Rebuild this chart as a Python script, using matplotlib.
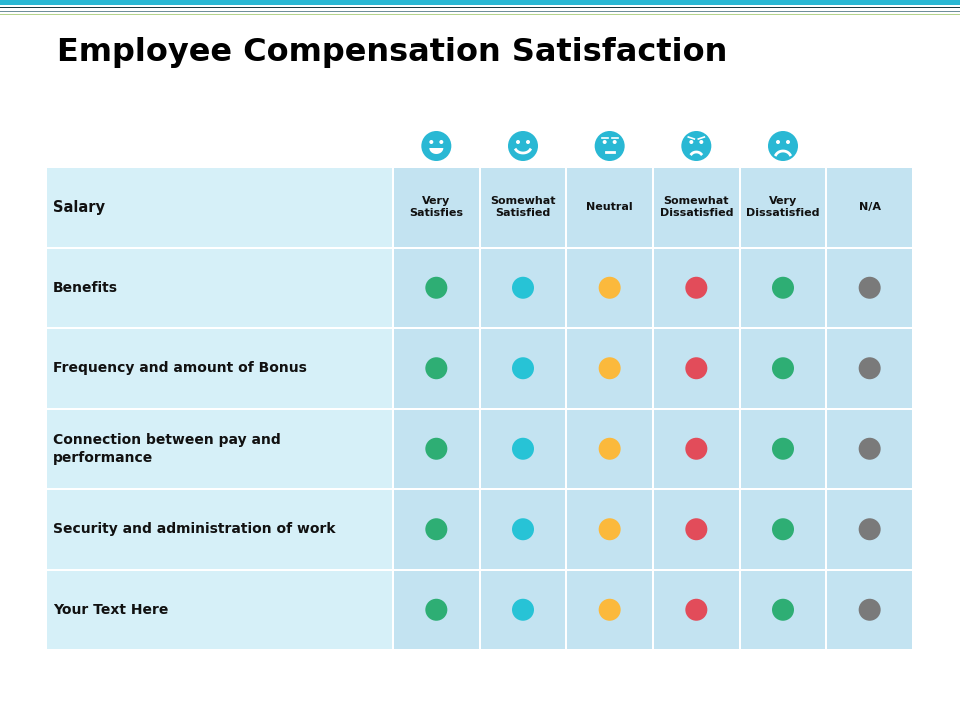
import matplotlib
matplotlib.use("Agg")
import matplotlib.pyplot as plt
from matplotlib.patches import Rectangle, Circle, Arc
import numpy as np

title = "Employee Compensation Satisfaction"
header_label = "Salary"
rows = ["Benefits", "Frequency and amount of Bonus",
        "Connection between pay and\nperformance",
        "Security and administration of work", "Your Text Here"]
columns = ["Very\nSatisfies", "Somewhat\nSatisfied", "Neutral",
           "Somewhat\nDissatisfied", "Very\nDissatisfied", "N/A"]
dot_colors = ["#2eae74", "#27c3d6", "#fbb93c", "#e24c5a", "#2eae74", "#7a7a7a"]

fig = plt.figure(figsize=(9.6, 7.2), dpi=100)
ax = fig.add_axes([0, 0, 1, 1])
ax.set_xlim(0, 960); ax.set_ylim(720, 0); ax.axis("off")

# top decorative lines
ax.add_patch(Rectangle((0, 0), 960, 5, color="#29b8d4", lw=0))
ax.add_patch(Rectangle((0, 6.5), 960, 1.3, color="#1d3d45", lw=0))
ax.add_patch(Rectangle((0, 10.5), 960, 1.3, color="#6f8f9a", lw=0))
ax.add_patch(Rectangle((0, 13.5), 960, 1.3, color="#b5d38c", lw=0))

ax.text(57, 52, title, fontsize=23, fontweight="bold", va="center", ha="left",
        family="DejaVu Sans", color="black")

left_x0, left_x1 = 47, 393
col_edges = np.linspace(393, 913, len(columns) + 1)
row_edges = np.linspace(167, 650, len(rows) + 2)
g = 1.0

for r in range(len(rows) + 1):
    y0, y1 = row_edges[r], row_edges[r + 1]
    ax.add_patch(Rectangle((left_x0, y0 + g), left_x1 - left_x0 - g, y1 - y0 - 2 * g,
                           color="#d6f0f8", lw=0))
    for c in range(len(columns)):
        ax.add_patch(Rectangle((col_edges[c] + g, y0 + g), col_edges[c + 1] - col_edges[c] - 2 * g,
                               y1 - y0 - 2 * g, color="#c3e3f1", lw=0))
    label = header_label if r == 0 else rows[r - 1]
    ax.text(53, (y0 + y1) / 2, label, fontsize=10.5 if r == 0 else 10, fontweight="bold",
            va="center", ha="left", color="#111111", linespacing=1.4)

yc0 = (row_edges[0] + row_edges[1]) / 2
for c, name in enumerate(columns):
    xc = (col_edges[c] + col_edges[c + 1]) / 2
    ax.text(xc, yc0, name, fontsize=8, fontweight="bold", ha="center", va="center",
            color="#111111", linespacing=1.3)
    for r in range(len(rows)):
        yc = (row_edges[r + 1] + row_edges[r + 2]) / 2
        ax.add_patch(Circle((xc, yc), 11, color=dot_colors[c], lw=0))

# emoji faces
fc = "#29b8d4"
for c in range(5):
    xc = (col_edges[c] + col_edges[c + 1]) / 2
    yc = 146
    ax.add_patch(Circle((xc, yc), 15, color=fc, lw=0))
    for dx in (-5, 5):
        ax.add_patch(Circle((xc + dx, yc - 4), 2, color="white", lw=0))
    if c == 0:
        ax.add_patch(Arc((xc, yc + 2), 16, 12, theta1=0, theta2=180, color="white", lw=0))
        t = np.linspace(0, np.pi, 30)
        ax.fill(xc + 7 * np.cos(t), yc + 2 + 6 * np.sin(t), color="white", lw=0)
    elif c == 1:
        t = np.linspace(0.15 * np.pi, 0.85 * np.pi, 30)
        ax.plot(xc + 8 * np.cos(t), yc + 1 + 6 * np.sin(t), color="white", lw=2)
    elif c == 2:
        ax.plot([xc - 4, xc + 4], [yc + 6, yc + 6], color="white", lw=2)
        for dx in (-5, 5):
            ax.plot([xc + dx - 3, xc + dx + 3], [yc - 8, yc - 8], color="white", lw=1.2)
    elif c == 3:
        t = np.linspace(1.2 * np.pi, 1.8 * np.pi, 30)
        ax.plot(xc + 6 * np.cos(t), yc + 11 + 5 * np.sin(t), color="white", lw=2)
        for dx, s in ((-5, 1), (5, -1)):
            ax.plot([xc + dx - 3, xc + dx + 3], [yc - 8 - s, yc - 8 + s], color="white", lw=1.2)
    else:
        t = np.linspace(1.15 * np.pi, 1.85 * np.pi, 30)
        ax.plot(xc + 8 * np.cos(t), yc + 12 + 7 * np.sin(t), color="white", lw=2)

fig.savefig("out.png", dpi=100)
